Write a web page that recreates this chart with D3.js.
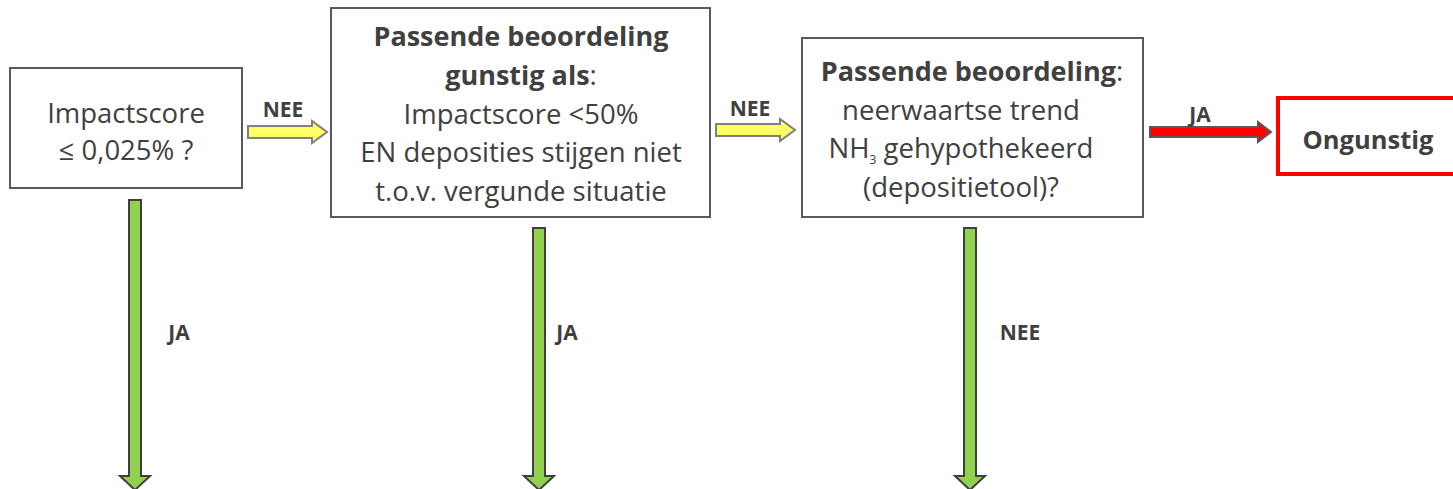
<!DOCTYPE html>
<html>
<head>
<meta charset="utf-8">
<script src="https://cdn.jsdelivr.net/npm/d3@7"></script>
<style>
  body { margin: 0; background: #fff; }
  svg { display: block; }
</style>
</head>
<body>
<div id="chart"></div>
<script>
// flow chart content
const boxTexts = [
  [[{t: 'Impactscore'}], [{t: '≤ 0,025% ?'}]],
  [[{t: 'Passende beoordeling', b: true}], [{t: 'gunstig als', b: true}, {t: ':'}],
   [{t: 'Impactscore <50%'}], [{t: 'EN deposities stijgen niet'}], [{t: 't.o.v. vergunde situatie'}]],
  [[{t: 'Passende beoordeling', b: true}, {t: ':'}], [{t: 'neerwaartse trend'}],
   [{t: 'NH'}, {t: '3', sub: true}, {t: ' gehypothekeerd', back: true}], [{t: '(depositietool)?'}]],
  [[{t: 'Ongunstig', b: true}]]
];
const boxKinds = ['normal', 'normal', 'normal', 'final'];
const arrowKinds = ['nee', 'nee', 'ja', 'down', 'down', 'down'];
const arrowLabels = ['NEE', 'NEE', 'JA', 'JA', 'JA', 'NEE'];

const W = 1453, H = 489;
const svg = d3.select('#chart').append('svg')
  .attr('width', W).attr('height', H)
  .style('font-family', '"Open Sans", Lato, sans-serif');

// layout (pixels)
const boxGeom = [
  {x: 10, y: 68, w: 232, h: 120, lh: 37, top: 123, cx: 126, dx: [0, 0]},
  {x: 331, y: 8, w: 379, h: 209, lh: 38.8, top: 46, cx: 521, dx: [0, 0, 0, 0, 0]},
  {x: 802, y: 38, w: 341, h: 179, lh: 38.5, top: 81, cx: 961, dx: [11, 0, 0, 0]},
  {x: 1278, y: 98, w: 180, h: 76, lh: 34, top: 149, cx: 1368, dx: [0]}
];
const arrowGeom = [
  {x0: 248, x1: 327, y: 132, sh: 6, hh: 11, hl: 15, lx: 283, ly: 117},
  {x0: 716, x1: 795, y: 130, sh: 6, hh: 11, hl: 15, lx: 750, ly: 116},
  {x0: 1150, x1: 1271, y: 132, sh: 5, hh: 10, hl: 13, lx: 1200, ly: 122},
  {x: 135, y0: 200, y1: 490, sh: 6, hh: 15, hl: 14, lx: 179, ly: 340},
  {x: 539, y0: 228, y1: 490, sh: 6, hh: 15, hl: 14, lx: 567, ly: 340},
  {x: 970, y0: 228, y1: 490, sh: 6, hh: 15, hl: 14, lx: 1020, ly: 340}
];
const arrowStyle = {
  nee: {fill: '#ffff66', stroke: '#7f7f7f'},
  ja: {fill: '#ff0000', stroke: '#595959'},
  down: {fill: '#92d050', stroke: '#3f3f3f'}
};

const line = d3.line().curve(d3.curveLinearClosed);

// boxes
boxGeom.forEach((g, i) => {
  const final = boxKinds[i] === 'final';
  svg.append('rect')
    .attr('x', g.x).attr('y', g.y).attr('width', g.w).attr('height', g.h)
    .attr('fill', '#fff')
    .attr('stroke', final ? '#ff0000' : '#595959')
    .attr('stroke-width', final ? 4 : 2);

  boxTexts[i].forEach((ln, j) => {
    const t = svg.append('text')
      .attr('x', g.cx + g.dx[j]).attr('y', g.top + j * g.lh)
      .attr('text-anchor', 'middle')
      .attr('fill', '#404040')
      .attr('font-size', final ? 25.5 : 27.5);
    ln.forEach(s => {
      const ts = t.append('tspan').text(s.t)
        .attr('font-weight', s.b ? 'bold' : 'normal');
      if (s.b && !final) ts.attr('font-size', 27);
      if (s.sub) ts.attr('font-size', 12).attr('dy', 6);
      if (s.back) ts.attr('dy', -6);
    });
  });
});

// arrows
arrowGeom.forEach((g, i) => {
  const k = arrowKinds[i];
  let pts;
  if (k === 'down') {
    const yh = g.y1 - g.hl;
    pts = [[g.x - g.sh, g.y0], [g.x + g.sh, g.y0], [g.x + g.sh, yh], [g.x + g.hh, yh],
           [g.x, g.y1], [g.x - g.hh, yh], [g.x - g.sh, yh]];
  } else {
    const xh = g.x1 - g.hl;
    pts = [[g.x0, g.y - g.sh], [xh, g.y - g.sh], [xh, g.y - g.hh], [g.x1, g.y],
           [xh, g.y + g.hh], [xh, g.y + g.sh], [g.x0, g.y + g.sh]];
  }
  svg.append('path')
    .attr('d', line(pts))
    .attr('fill', arrowStyle[k].fill)
    .attr('stroke', arrowStyle[k].stroke)
    .attr('stroke-width', 2)
    .attr('stroke-linejoin', 'miter');

  svg.append('text')
    .attr('x', g.lx).attr('y', g.ly)
    .attr('text-anchor', 'middle')
    .attr('font-weight', 'bold')
    .attr('font-size', 21)
    .attr('fill', '#404040')
    .text(arrowLabels[i]);
});
</script>
</body>
</html>
